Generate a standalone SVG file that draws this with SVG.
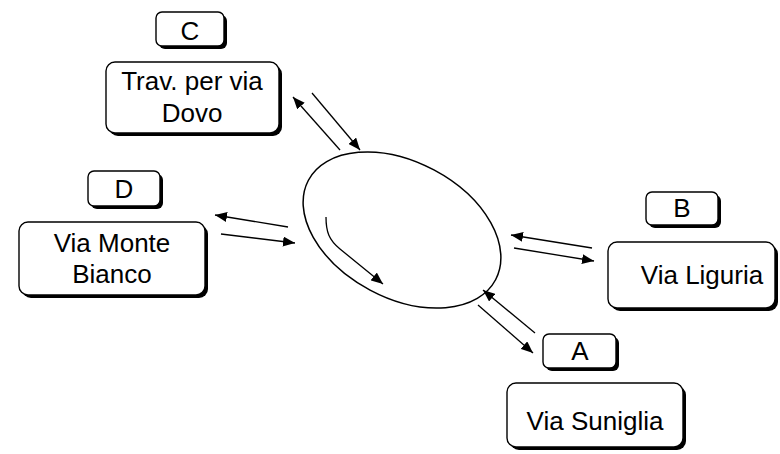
<svg xmlns="http://www.w3.org/2000/svg" width="780" height="454" viewBox="0 0 780 454">
<style>
.sh{fill:#000}
.bx{fill:#fff;stroke:#000;stroke-width:1.4}
.t{font-family:"Liberation Sans",Arial,sans-serif;font-size:26px;fill:#000;text-anchor:middle}
.ln{fill:none;stroke:#000;stroke-width:1.3}
</style>
<defs>
<marker id="ah" viewBox="0 0 12 10" refX="12" refY="5" markerWidth="12" markerHeight="10" markerUnits="userSpaceOnUse" orient="auto">
<path d="M0,0 L12,5 L0,10 Z" fill="#000"/>
</marker>
</defs>
<rect width="780" height="454" fill="#fff"/>
<g id="labelC">
<rect class="sh" x="159" y="15" width="68" height="34" rx="6"/>
<rect class="bx" x="156" y="12" width="68" height="34" rx="6"/>
<text class="t" x="190" y="40">C</text>
</g>
<g id="nodeC">
<rect class="sh" x="109" y="65" width="173" height="71" rx="9"/>
<rect class="bx" x="106" y="62" width="173" height="71" rx="9"/>
<text class="t" x="192" y="90">Trav. per via</text>
<text class="t" x="192" y="122">Dovo</text>
</g>
<g id="labelD">
<rect class="sh" x="91" y="174" width="72" height="35" rx="6"/>
<rect class="bx" x="88" y="171" width="72" height="35" rx="6"/>
<text class="t" x="124" y="198">D</text>
</g>
<g id="nodeD">
<rect class="sh" x="22" y="225" width="186" height="73" rx="9"/>
<rect class="bx" x="19" y="222" width="186" height="73" rx="9"/>
<text class="t" x="112" y="252">Via Monte</text>
<text class="t" x="112" y="283">Bianco</text>
</g>
<g id="labelB">
<rect class="sh" x="649" y="195" width="72" height="33" rx="6"/>
<rect class="bx" x="646" y="192" width="72" height="33" rx="6"/>
<text class="t" x="682" y="217">B</text>
</g>
<g id="nodeB">
<rect class="sh" x="611" y="245" width="167" height="66" rx="9"/>
<rect class="bx" x="608" y="242" width="167" height="66" rx="9"/>
<text class="t" x="702" y="284">Via Liguria</text>
</g>
<g id="labelA">
<rect class="sh" x="546" y="337" width="73" height="34" rx="6"/>
<rect class="bx" x="543" y="334" width="73" height="34" rx="6"/>
<text class="t" x="580" y="360">A</text>
</g>
<g id="nodeA">
<rect class="sh" x="510" y="386" width="176" height="64" rx="9"/>
<rect class="bx" x="507" y="383" width="176" height="64" rx="9"/>
<text class="t" x="595" y="430">Via Suniglia</text>
</g>
<g id="roundabout">
<ellipse cx="402" cy="230" rx="106" ry="68" transform="rotate(28 402 230)" fill="none" stroke="#000" stroke-width="1.5"/>
</g>
<g id="connectors">
<path class="ln" d="M326,217 C326,232 329,240 340,249 L383,284" marker-end="url(#ah)"/>
<line class="ln" x1="340" y1="150" x2="293" y2="97" marker-end="url(#ah)"/>
<line class="ln" x1="312" y1="93" x2="360" y2="150" marker-end="url(#ah)"/>
<line class="ln" x1="288" y1="227" x2="215" y2="215" marker-end="url(#ah)"/>
<line class="ln" x1="221" y1="234" x2="295" y2="243" marker-end="url(#ah)"/>
<line class="ln" x1="592" y1="248" x2="511" y2="235" marker-end="url(#ah)"/>
<line class="ln" x1="514" y1="248" x2="594" y2="261" marker-end="url(#ah)"/>
<line class="ln" x1="535" y1="333" x2="483" y2="290" marker-end="url(#ah)"/>
<line class="ln" x1="478" y1="305" x2="533" y2="353" marker-end="url(#ah)"/>
</g>
</svg>
